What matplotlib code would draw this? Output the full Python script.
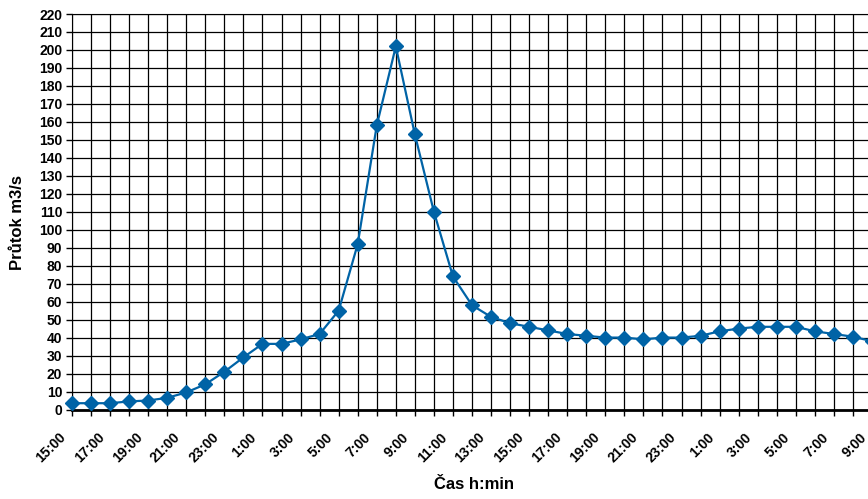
import matplotlib.pyplot as plt
from matplotlib.ticker import MultipleLocator
from matplotlib.transforms import ScaledTranslation

plt.rcParams['font.family'] = ['Liberation Sans', 'DejaVu Sans']

# hourly readings, 15:00 day 1 .. 9:00 day 3
hours = ['15:00', '16:00', '17:00', '18:00', '19:00', '20:00', '21:00', '22:00',
         '23:00', '0:00', '1:00', '2:00', '3:00', '4:00', '5:00', '6:00',
         '7:00', '8:00', '9:00', '10:00', '11:00', '12:00', '13:00', '14:00',
         '15:00', '16:00', '17:00', '18:00', '19:00', '20:00', '21:00', '22:00',
         '23:00', '0:00', '1:00', '2:00', '3:00', '4:00', '5:00', '6:00',
         '7:00', '8:00', '9:00']
flow = [3.5, 3.5, 3.5, 4.5, 5, 6.5, 9.5, 14, 21, 29, 36.5, 36.5, 39, 42, 55, 92,
        158, 202, 153, 110, 74, 58, 51.5, 48, 46, 44, 42, 41, 40, 40, 39, 40,
        40, 41, 43.5, 45, 46, 46, 46, 43.5, 42, 40.5, 38]

fig = plt.figure(figsize=(8.68, 4.99), dpi=100)
ax = fig.add_axes([72 / 868, 89.5 / 499, 800 / 868, 395.5 / 499])

x = list(range(len(flow)))
ax.plot(x, flow, color='#0063a6', lw=1.6, marker='D', ms=7.5, clip_on=False, zorder=3)

ax.set_xlim(0, len(flow) - 1)
ax.set_ylim(0, 220)
ax.yaxis.set_major_locator(MultipleLocator(10))
ax.set_xticks(x)
ax.set_xticklabels([h if i % 2 == 0 else '' for i, h in enumerate(hours)],
                   rotation=45, ha='right', va='center', rotation_mode='anchor',
                   fontsize=10, fontweight='bold')
for t in ax.get_yticklabels():
    t.set_fontsize(10)
    t.set_fontweight('bold')

ax.grid(True, color='black', lw=0.9)
ax.set_axisbelow(True)
ax.tick_params(axis='both', direction='out', length=4, width=1, color='black', pad=3)
ax.spines['bottom'].set_linewidth(2)
ax.spines['right'].set_visible(False)

# shift the slanted labels down-left like the original
shift = ScaledTranslation(-8 / 100, -16 / 100, fig.dpi_scale_trans)
for t in ax.get_xticklabels():
    t.set_transform(t.get_transform() + shift)

ax.set_ylabel('Průtok m3/s', fontsize=12, fontweight='bold')
ax.set_xlabel('Čas h:min', fontsize=12, fontweight='bold')
ax.yaxis.set_label_coords(-0.059, 0.474)
ax.xaxis.set_label_coords(0.502, -0.171)

fig.savefig('out.png', dpi=100)
